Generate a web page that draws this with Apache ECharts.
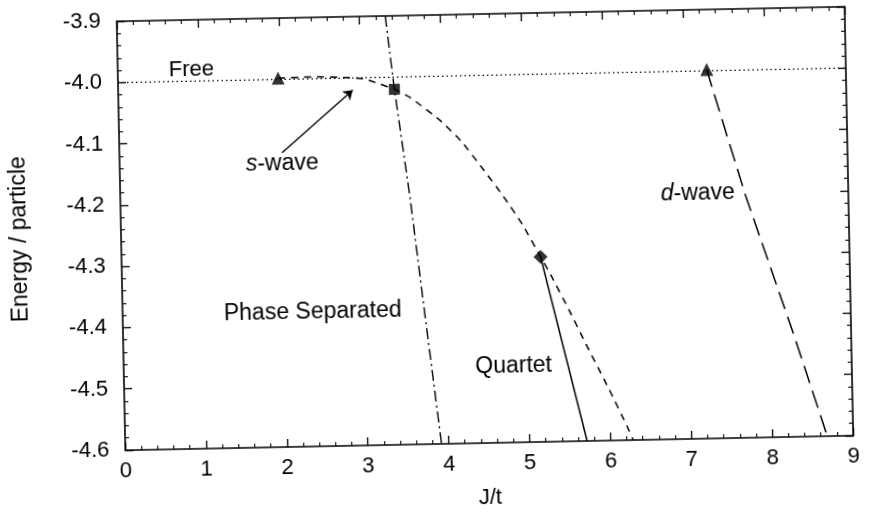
<!DOCTYPE html>
<html><head><meta charset="utf-8">
<script src="https://cdn.jsdelivr.net/npm/echarts@6/dist/echarts.min.js"></script>
<style>
html,body{margin:0;padding:0;background:#fff;overflow:hidden}
#c{width:869px;height:514px;transform-origin:485px 230px;transform:rotate(-1.15deg)}
</style>
</head><body><div id="c"></div>
<script>
// ---- data ----
const xTickValues = [0, 1, 2, 3, 4, 5, 6, 7, 8, 9];
const yTickLabels = ['-3.9', '-4.0', '-4.1', '-4.2', '-4.3', '-4.4', '-4.5', '-4.6'];

const freeX = [0, 9];
const freeY = [-4.0, -4.0];

const sWaveX = [1.98, 2.4, 2.8, 3.04, 3.24, 3.415, 3.61, 3.97, 4.23, 4.49, 4.73, 4.97, 5.18, 5.31, 5.52, 5.72, 5.99, 6.21, 6.28];
const sWaveY = [-3.998, -3.997, -3.999, -4.002, -4.011, -4.02, -4.034, -4.072, -4.107, -4.153, -4.197, -4.246, -4.298, -4.33, -4.386, -4.442, -4.515, -4.578, -4.6];

const phaseSepX = [3.32, 3.415, 3.58, 3.73, 3.91];
const phaseSepY = [-3.9, -4.02, -4.195, -4.381, -4.6];

const quartetX = [5.18, 5.71];
const quartetY = [-4.298, -4.6];

const dWaveX = [7.28, 7.5, 7.73, 8.0, 8.29, 8.68];
const dWaveY = [-3.998, -4.1, -4.205, -4.315, -4.433, -4.6];

const triangleX = [1.98, 7.28];
const triangleY = [-3.998, -3.998];
const squareX = [3.415];
const squareY = [-4.02];
const diamondX = [5.18];
const diamondY = [-4.298];

const arrowX = [2.01, 2.9];
const arrowY = [-4.12, -4.02];

const labelTexts = ['Free', '{i|s}-wave', '{i|d}-wave', 'Phase Separated', 'Quartet'];
const labelX = [0.91, 2.01, 7.14, 2.35, 4.82];
const labelY = [-3.982, -4.138, -4.20, -4.381, -4.475];

// ---- chart ----
const FONT = 'Liberation Sans, Arial, Helvetica, sans-serif';
const zip = (xs, ys) => xs.map((x, i) => [x, ys[i]]);
const chart = echarts.init(document.getElementById('c'), null, {renderer: 'canvas'});

const axisLine = {onZero: false, lineStyle: {color: '#000', width: 1.6}};
const axisTick = {inside: true, length: 8, lineStyle: {color: '#000', width: 1.3}};
const minorTick = {show: true, splitNumber: 5, length: 4, lineStyle: {color: '#000', width: 1.1}};

function lineSeries(name, xs, ys, type, width, smooth) {
  return {
    name, type: 'line', data: zip(xs, ys), showSymbol: false, smooth: smooth || false,
    lineStyle: {color: '#000', width: width, type: type}, z: 3, silent: true, animation: false
  };
}
function markerSeries(name, xs, ys, symbol, size) {
  return {
    name, type: 'scatter', data: zip(xs, ys), symbol, symbolSize: size,
    itemStyle: {color: '#000'}, z: 5, silent: true, animation: false
  };
}

chart.setOption({
  animation: false,
  grid: {left: 121, right: 20, top: 14, bottom: 68, containLabel: false},
  xAxis: [
    {type: 'value', min: xTickValues[0], max: xTickValues[xTickValues.length - 1], interval: 1, position: 'bottom',
     axisLine, axisTick, minorTick, splitLine: {show: false},
     axisLabel: {color: '#000', fontSize: 22, fontFamily: FONT, margin: 10},
     name: 'J/t', nameLocation: 'middle', nameGap: 44,
     nameTextStyle: {color: '#000', fontSize: 22, fontFamily: FONT}},
    {type: 'value', min: 0, max: 9, interval: 1, position: 'top',
     axisLine, axisTick, minorTick, splitLine: {show: false}, axisLabel: {show: false}}
  ],
  yAxis: [
    {type: 'value', min: -4.6, max: -3.9, interval: 0.1, position: 'left',
     axisLine, axisTick, minorTick, splitLine: {show: false},
     axisLabel: {color: '#000', fontSize: 22, fontFamily: FONT, margin: 16,
       formatter: v => { const s = v.toFixed(1); return yTickLabels.includes(s) ? s : ''; }}},
    {type: 'value', min: -4.6, max: -3.9, interval: 0.1, position: 'right',
     axisLine, axisTick, minorTick, splitLine: {show: false}, axisLabel: {show: false}}
  ],
  series: [
    lineSeries('Free', freeX, freeY, [1.5, 3], 1.3),
    lineSeries('s-wave', sWaveX, sWaveY, [7, 6], 1.5, 0.15),
    lineSeries('Phase Separated', phaseSepX, phaseSepY, [11, 4, 2, 4], 1.4),
    lineSeries('Quartet', quartetX, quartetY, 'solid', 1.5),
    lineSeries('d-wave', dWaveX, dWaveY, [18, 8], 1.5),
    markerSeries('triangles', triangleX, triangleY, 'triangle', 13),
    markerSeries('square', squareX, squareY, 'rect', 11),
    markerSeries('diamond', diamondX, diamondY, 'diamond', 14),
    {
      type: 'lines', coordinateSystem: 'cartesian2d', silent: true, animation: false, z: 4,
      symbol: ['none', 'arrow'], symbolSize: [0, 9],
      lineStyle: {color: '#000', width: 1.4, opacity: 1},
      data: [{coords: zip(arrowX, arrowY)}]
    }
  ]
});

// annotations placed through the chart's own scales
const graphics = [{
  id: 'ytitle', type: 'text', x: 20, y: 230, rotation: Math.PI / 2, silent: true, z: 10,
  style: {text: 'Energy / particle', fill: '#000', fontSize: 23, fontFamily: FONT, align: 'center', verticalAlign: 'middle'}
}];
labelTexts.forEach((t, i) => {
  const p = chart.convertToPixel({gridIndex: 0}, [labelX[i], labelY[i]]);
  const fs = i === 0 ? 22 : 23;
  graphics.push({
    id: 'lab' + i, type: 'text', x: p[0], y: p[1], silent: true, z: 10,
    style: {text: t, fill: '#000', fontSize: fs, fontFamily: FONT, align: 'center', verticalAlign: 'middle',
      rich: {i: {fontStyle: 'italic', fontSize: fs, fontFamily: FONT, fill: '#000'}}}
  });
});
chart.setOption({graphic: graphics});
</script>
</body></html>
